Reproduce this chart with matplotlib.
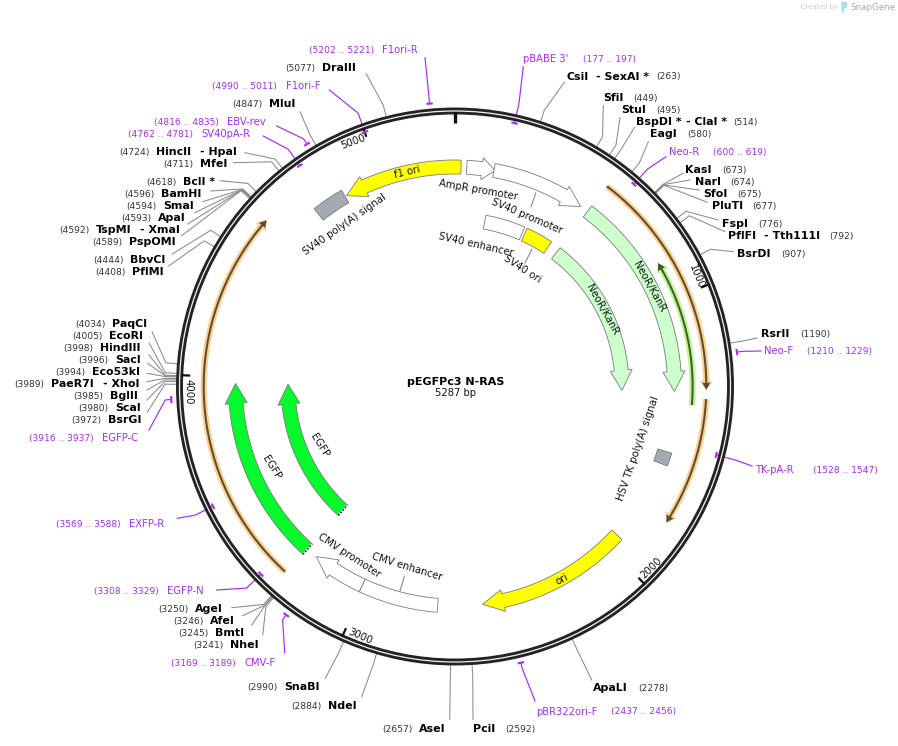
import numpy as np
import matplotlib
matplotlib.use("Agg")
import matplotlib.pyplot as plt
from matplotlib.patches import Polygon, Circle

# ---------- DATA ----------
plasmid_name = "pEGFPc3 N-RAS"
plasmid_bp = 5287
tick_values = [1000, 2000, 3000, 4000, 5000]

feature_names = ["f1 ori", "SV40 poly(A) signal", "AmpR promoter", "SV40 promoter", "SV40 enhancer", "SV40 ori",
                 "NeoR/KanR", "NeoR/KanR", "HSV TK poly(A) signal", "ori", "CMV enhancer", "CMV promoter",
                 "EGFP", "EGFP"]
feature_starts = [23, 4723, 45, 150, 150, 360, 545, 545, 1573, 1946, 2710, 3011, 3263, 3263]
feature_ends = [4852, 4846, 154, 513, 347, 495, 1341, 1341, 1623, 2538, 3011, 3219, 3977, 3977]

arc_starts = [3268, 546, 1364, 1388]
arc_ends = [4574, 1333, 1803, 862]

site_names = ["DraIII", "MluI", "HincII - HpaI", "MfeI", "BclI *", "BamHI", "SmaI", "ApaI", "TspMI - XmaI", "PspOMI",
              "BbvCI", "PflMI", "PaqCI", "EcoRI", "HindIII", "SacI", "Eco53kI", "PaeR7I - XhoI", "BglII", "ScaI",
              "BsrGI", "AgeI", "AfeI", "BmtI", "NheI", "SnaBI", "NdeI", "AseI", "PciI", "ApaLI",
              "CsiI - SexAI *", "SfiI", "StuI", "BspDI * - ClaI *", "EagI", "KasI", "NarI", "SfoI", "PluTI", "FspI",
              "PflFI - Tth111I", "BsrDI", "RsrII"]
site_positions = [5077, 4847, 4724, 4711, 4618, 4596, 4594, 4593, 4592, 4589,
                  4444, 4408, 4034, 4005, 3998, 3996, 3994, 3989, 3985, 3980,
                  3972, 3250, 3246, 3245, 3241, 2990, 2884, 2657, 2592, 2278,
                  263, 449, 495, 514, 580, 673, 674, 675, 677, 776,
                  792, 907, 1190]

primer_names = ["F1ori-R", "pBABE 3'", "F1ori-F", "EBV-rev", "SV40pA-R", "Neo-R", "Neo-F", "TK-pA-R",
                "pBR322ori-F", "CMV-F", "EGFP-N", "EXFP-R", "EGFP-C"]
primer_starts = [5202, 177, 4990, 4816, 4762, 600, 1210, 1528, 2437, 3169, 3308, 3569, 3916]
primer_ends = [5221, 197, 5011, 4835, 4781, 619, 1229, 1547, 2456, 3189, 3329, 3588, 3937]

# ---------- LAYOUT / STYLE ----------
W, H = 898, 746
CX, CY = 455.0, 386.5
R_RING, R_OUT, R_IN = 275.5, 219.5, 167.0
FONT_BOLD, FONT_NUM, FONT_PRIMER, FONT_RANGE, FONT_FEATURE = 7.9, 6.6, 7.2, 6.6, 7.3
PURPLE = "#a62cf5"
GREY_LINE = "#8a8a8a"
EDGE = "#7a7a7a"

# track radius, colour, half width, head half width, head length, reverse?
feature_style = [
    (R_OUT, "#ffff00", 7, 11, 20, True), (R_OUT, "#a5aab2", 7.3, 0, 0, False),
    (R_OUT, "#ffffff", 7, 11, 13, False), (R_OUT, "#ffffff", 7, 11, 20, False),
    (R_IN, "#ffffff", 7, 0, 0, False), (R_IN, "#ffff00", 7, 0, 0, False),
    (R_OUT, "#ccffcc", 7, 11, 20, False), (R_IN, "#ccffcc", 7, 11, 20, False),
    (R_OUT, "#a5aab2", 7.3, 0, 0, False), (R_OUT, "#ffff00", 7, 11, 21, False),
    (R_OUT, "#ffffff", 7, 0, 0, False), (R_OUT, "#ffffff", 7, 11, 21, False),
    (R_OUT, "#05f92c", 7, 11, 20, False), (R_IN, "#05f92c", 7, 11, 20, False),
]
# label: x, y, rotation
feature_label_layout = [
    (406.7, 171.7, 13), (345, 225, 35), (478.5, 190.5, -10), (526.7, 216, -23), (476, 245, -13), (522, 269, -33),
    (649, 286.7, -61), (601.7, 310, -61), (638.3, 448.3, 71), (561.7, 579, 27), (407, 566.7, -17), (349, 555.7, -33),
    (271, 467.3, -58), (319.3, 445.7, -58),
]
connector_layout = [((535.7, 193.3), (531, 206.7)), ((532, 249), (525, 263)), ((404.3, 576.7), (400, 590.7))]
arc_style = [(251.3, "#fdd08a", "#5a4a38"), (251.3, "#fdd08a", "#5a4a38"), (251.3, "#fdd08a", "#5a4a38"),
             (237.6, "#bdf58f", "#3f5a2c")]
tick_label_layout = [(696.7, 276.7, -68), (651, 568.3, 44), (360, 636, -24), (188.3, 391.7, -90), (353.3, 141.7, 20)]

# number x, name x, y, x of second name (or None), leader end x, leader end y
site_layout = [
    (285, 322.3, 68, None, 366, 73.3), (232, 269.3, 104, None, 300, 111.7),
    (119.3, 156.3, 152.3, 200, 245, 152.7), (163.3, 200.3, 164.3, None, 233.3, 162.7),
    (146.3, 183.3, 182.3, None, 220, 180.7), (124.3, 161.3, 194.3, None, 210.7, 191),
    (126.3, 163, 206.3, None, 202.7, 201.7), (121.3, 158.3, 218.3, None, 195, 212.7),
    (59.3, 96, 230.3, 140.3, 187.7, 224), (92.3, 129.3, 242.3, None, 181.7, 235.7),
    (93.3, 130.3, 260.3, None, 172.3, 254), (95.3, 132.3, 272.3, None, 168.7, 266),
    (75.3, 112.3, 324.3, None, 152, 331.7), (72.3, 109.3, 336.3, None, 149.3, 343.3),
    (63.3, 100.3, 348.3, None, 149, 355), (78.3, 115, 360.3, None, 147.7, 363.3),
    (55.3, 92.3, 372.3, None, 147.3, 373.3), (14.3, 51.3, 384.3, 103.3, 147, 381.7),
    (73.3, 110.3, 396.3, None, 147, 390), (78.3, 115, 408.3, None, 147, 400),
    (71.3, 108.3, 420.3, None, 147.3, 412.3),
    (158.3, 195, 609.3, None, 231.7, 607.7), (173.3, 210, 621.3, None, 242.7, 615.7),
    (178.3, 215, 633.3, None, 251.7, 625), (193.3, 230.3, 645.3, None, 262.7, 635),
    (247.3, 284, 687.3, None, 325.3, 678.3), (291.3, 328.3, 706.3, None, 361.7, 696.7),
    (382.3, 419.3, 729.3, None, 449.7, 719.3), (505.3, 473.3, 729.3, None, 473, 719.3),
    (638.3, 593, 688.3, None, 591.7, 680),
    (656.3, 566.3, 77, 596.3, 564.3, 82.3), (633.3, 603.3, 98.3, None, 603.3, 105.7),
    (656.3, 621, 110.3, None, 620, 117.7), (733.3, 636.3, 122.3, 686.3, 634.3, 127.7),
    (687.3, 650.3, 134.3, None, 648.3, 141.7), (722, 685.3, 170, None, 683, 173.3),
    (730.3, 694.7, 182, None, 690, 180), (737.3, 703, 194, None, 699, 190),
    (752.3, 711.7, 206, None, 707.3, 202.3), (758.3, 722.3, 224, None, 718.3, 220),
    (829.3, 728.3, 236, 764.3, 725, 231.7), (781.3, 737.3, 254.3, None, 733.3, 251.7),
    (800, 761, 334, None, 757, 338),
]
# name x, range x, y, mark radius, leader end x, leader end y
primer_layout = [
    (382.3, 309.3, 50, 284, 425, 57.7), (523.3, 582.7, 59.3, 270, 523.3, 66.7),
    (285.7, 212.3, 86, 270, 329.3, 90), (227.3, 154.3, 122.3, 284, 276.7, 126),
    (201, 128.3, 134.3, 270, 263.3, 136), (669.3, 712.7, 152.3, 270, 666, 156.7),
    (764, 807, 351.5, 284, 761, 351), (755, 813, 470, 270, 752, 466),
    (536.3, 611.3, 711.7, 284, 535, 701), (244.3, 171.3, 663.3, 284, 284.7, 652.7),
    (167.3, 94.3, 591.3, 270, 216.7, 590), (129.3, 56.3, 524.3, 270, 177.3, 518.3),
    (102.3, 29.3, 438.3, 284, 149, 430),
]


def polar(bp, r):
    t = np.asarray(bp, dtype=float) / plasmid_bp * 2 * np.pi
    return CX + r * np.sin(t), CY - r * np.cos(t)


def arc(a, b, r):
    n = max(2, int(abs(b - a) / 10) + 2)
    return np.column_stack(polar(np.linspace(a, b, n), r))


def unwrap(start, end, reverse):
    if reverse:
        return start + plasmid_bp if start < end else start, end
    return start, end + plasmid_bp if end < start else end


def arrow_points(a, b, r, half, head_half, head_len):
    """Block arc from a to b; the head (if any) points at b."""
    if head_half == 0:
        return np.vstack([arc(a, b, r + half), arc(b, a, r - half)])
    sign = 1 if b > a else -1
    base = b - sign * head_len / r / (2 * np.pi) * plasmid_bp
    return np.vstack([arc(a, base, r + half), [polar(base, r + head_half)], [polar(b, r)],
                      [polar(base, r - head_half)], arc(base, a, r - half)])


fig = plt.figure(figsize=(W / 100, H / 100), dpi=100)
ax = fig.add_axes([0, 0, 1, 1])
ax.set_xlim(0, W)
ax.set_ylim(H, 0)
ax.axis("off")
plt.rcParams["font.family"] = "DejaVu Sans"

# ring
ax.add_patch(Circle((CX, CY), R_RING, fill=False, ec="#232323", lw=5.0, zorder=3))
ax.add_patch(Circle((CX, CY), R_RING, fill=False, ec="#f2f2f2", lw=0.9, zorder=3.1))

# ticks
tx, ty = polar(0, R_RING), polar(0, 264)
ax.plot([tx[0], ty[0]], [tx[1], ty[1]], color="#111111", lw=2.4, zorder=3, solid_capstyle="butt")
for v, (lx, ly, rot) in zip(tick_values, tick_label_layout):
    p, q = polar(v, R_RING), polar(v, 265)
    ax.plot([p[0], q[0]], [p[1], q[1]], color="#111111", lw=1.6, zorder=3, solid_capstyle="butt")
    ax.text(lx, ly, f"{v}", rotation=rot, ha="center", va="center", fontsize=FONT_FEATURE, color="#111111",
            rotation_mode="anchor", zorder=4)

# curved bands
for s, e, (r, light, dark) in zip(arc_starts, arc_ends, arc_style):
    ax.add_patch(Polygon(arrow_points(s, e, r, 3.1, 6.8, 9), closed=True, fc=light, ec="none", zorder=2))
    ax.add_patch(Polygon(arrow_points(s, e, r, 1.0, 4.0, 7), closed=True, fc=dark, ec="none", zorder=2.1))

# features
for (ns, s, e, st, lay) in zip(feature_names, feature_starts, feature_ends, feature_style, feature_label_layout):
    r, col, half, hh, hl, rev = st
    a, b = unwrap(s, e, rev)
    ax.add_patch(Polygon(arrow_points(a, b, r, half, hh, hl), closed=True, fc=col, ec=EDGE, lw=0.6, zorder=2.5))
    ax.text(lay[0], lay[1], ns, rotation=lay[2], ha="center", va="center", rotation_mode="anchor",
            fontsize=FONT_FEATURE, color="#111111", zorder=4)
    if ns == "EGFP":
        p, q = polar(s, r + half), polar(s, r - half)
        ax.plot([p[0], q[0]], [p[1], q[1]], color="white", lw=1.4, zorder=2.6, solid_capstyle="butt")
        ax.plot([p[0], q[0]], [p[1], q[1]], color="#222222", lw=1.2, ls=(0, (1, 1)), zorder=2.7)

for p, q in connector_layout:
    ax.plot([p[0], q[0]], [p[1], q[1]], color=GREY_LINE, lw=0.8, zorder=2)

# restriction sites
for name, pos, (nx, mx, y, sx, ex, ey) in zip(site_names, site_positions, site_layout):
    p0, p1 = polar(pos, 279), polar(pos, 290)
    ax.plot([p0[0], p1[0], ex], [p0[1], p1[1], ey], color=GREY_LINE, lw=0.75, zorder=1)
    parts = name.split(" - ")
    ax.text(mx, y, parts[0], fontsize=FONT_BOLD, fontweight="bold", color="black", va="center", ha="left")
    if sx is not None:
        ax.text(sx, y, "- " + parts[1], fontsize=FONT_BOLD, fontweight="bold", color="black", va="center", ha="left")
    ax.text(nx, y, f"({pos})", fontsize=FONT_NUM, color="#333333", va="center", ha="left")

# primers
for name, s, e, (mx, rx, y, rm, ex, ey) in zip(primer_names, primer_starts, primer_ends, primer_layout):
    mid = (s + e) / 2
    pts = arc(s, e, rm)
    ax.plot(pts[:, 0], pts[:, 1], color=PURPLE, lw=1.5, zorder=3.5, solid_capstyle="butt")
    p0, p1 = polar(mid, rm), polar(mid, 290)
    ax.plot([p0[0], p1[0], ex], [p0[1], p1[1], ey], color=PURPLE, lw=0.85, zorder=2.9)
    ax.text(mx, y, name, fontsize=FONT_PRIMER, color=PURPLE, va="center", ha="left")
    ax.text(rx, y, f"({s} .. {e})", fontsize=FONT_RANGE, color=PURPLE, va="center", ha="left")

# centre
ax.text(455.5, 381.7, plasmid_name, fontsize=8.0, fontweight="bold", ha="center", va="center", color="black")
ax.text(455.5, 393.5, f"{plasmid_bp} bp", fontsize=7.2, ha="center", va="center", color="#111111")

# credit
ax.text(801, 7.5, "Created by", fontsize=4.8, color="#c4c8cc", va="center", ha="left")
ax.add_patch(Polygon([(841, 2), (847, 2), (847, 8), (844, 8), (844, 13), (842, 13)], closed=True,
                     fc="#a9ddf2", ec="none"))
ax.text(850, 7.5, "SnapGene", fontsize=6.3, color="#a6abb0", va="center", ha="left")

fig.savefig("out.png", dpi=100)
